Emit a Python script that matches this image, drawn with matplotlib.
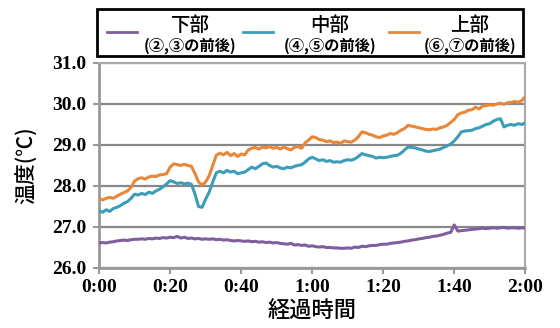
import matplotlib
matplotlib.use("Agg")
import matplotlib.pyplot as plt
from matplotlib.lines import Line2D
from matplotlib.patches import Rectangle
import numpy as np

JP = ['Noto Sans CJK JP', 'DejaVu Sans']
NUM = ['Liberation Serif', 'DejaVu Serif']

# elapsed time in minutes, one reading per minute
minutes = np.arange(0, 121)

# upper part (6, 7)
upper = [27.68, 27.66, 27.70, 27.72, 27.70, 27.75, 27.80, 27.84, 27.88, 27.97, 28.12,
         28.18, 28.20, 28.17, 28.22, 28.24, 28.23, 28.27, 28.28, 28.30, 28.46,
         28.54, 28.52, 28.50, 28.53, 28.50, 28.48, 28.30, 28.10, 28.02, 28.10,
         28.25, 28.50, 28.75, 28.80, 28.76, 28.82, 28.74, 28.79, 28.72, 28.78,
         28.76, 28.88, 28.92, 28.94, 28.90, 28.95, 28.93, 28.96, 28.92, 28.94,
         28.90, 28.95, 28.91, 28.88, 28.94, 28.96, 28.92, 29.05, 29.12, 29.20,
         29.18, 29.13, 29.12, 29.08, 29.10, 29.06, 29.07, 29.04, 29.10, 29.08,
         29.07, 29.12, 29.20, 29.32, 29.30, 29.26, 29.24, 29.20, 29.18, 29.22,
         29.24, 29.28, 29.26, 29.30, 29.36, 29.40, 29.48, 29.46, 29.44, 29.42,
         29.40, 29.38, 29.37, 29.39, 29.38, 29.42, 29.44, 29.48, 29.55, 29.62,
         29.74, 29.78, 29.80, 29.85, 29.86, 29.92, 29.88, 29.95, 29.96, 29.98,
         29.97, 30.00, 30.02, 29.99, 30.03, 30.04, 30.06, 30.04, 30.08, 30.18]

# middle part (4, 5)
middle = [27.39, 27.36, 27.42, 27.38, 27.45, 27.48, 27.52, 27.58, 27.62, 27.70, 27.80,
          27.78, 27.82, 27.79, 27.85, 27.82, 27.88, 27.92, 27.98, 28.05, 28.13,
          28.10, 28.06, 28.08, 28.05, 28.07, 28.04, 27.80, 27.50, 27.48, 27.68,
          27.85, 28.10, 28.32, 28.36, 28.32, 28.38, 28.34, 28.36, 28.30, 28.32,
          28.34, 28.40, 28.46, 28.42, 28.48, 28.54, 28.56, 28.50, 28.46, 28.48,
          28.44, 28.42, 28.46, 28.44, 28.48, 28.50, 28.52, 28.58, 28.66, 28.70,
          28.66, 28.62, 28.64, 28.60, 28.62, 28.58, 28.59, 28.58, 28.62, 28.64,
          28.63, 28.66, 28.72, 28.79, 28.76, 28.74, 28.72, 28.68, 28.70, 28.69,
          28.70, 28.72, 28.74, 28.75, 28.80, 28.88, 28.95, 28.94, 28.93, 28.90,
          28.88, 28.85, 28.84, 28.86, 28.88, 28.90, 28.94, 28.98, 29.02, 29.10,
          29.20, 29.32, 29.34, 29.35, 29.36, 29.40, 29.42, 29.46, 29.50, 29.52,
          29.58, 29.62, 29.64, 29.44, 29.48, 29.50, 29.48, 29.52, 29.50, 29.54]

# lower part (2, 3)
lower = [26.61, 26.62, 26.61, 26.63, 26.64, 26.66, 26.67, 26.68, 26.67, 26.69, 26.70,
         26.70, 26.71, 26.70, 26.72, 26.71, 26.73, 26.72, 26.74, 26.73, 26.75,
         26.74, 26.77, 26.73, 26.75, 26.72, 26.73, 26.71, 26.72, 26.70, 26.71,
         26.70, 26.71, 26.69, 26.70, 26.68, 26.69, 26.67, 26.66, 26.67, 26.66,
         26.65, 26.66, 26.64, 26.65, 26.63, 26.64, 26.62, 26.63, 26.61, 26.62,
         26.60, 26.59, 26.58, 26.60, 26.56, 26.57, 26.55, 26.56, 26.53, 26.54,
         26.52, 26.51, 26.52, 26.50, 26.50, 26.49, 26.49, 26.48, 26.48, 26.49,
         26.48, 26.51, 26.50, 26.53, 26.52, 26.54, 26.55, 26.55, 26.57, 26.58,
         26.58, 26.60, 26.61, 26.62, 26.63, 26.65, 26.66, 26.68, 26.69, 26.71,
         26.72, 26.74, 26.75, 26.77, 26.78, 26.80, 26.82, 26.85, 26.87, 27.05,
         26.90, 26.91, 26.92, 26.93, 26.94, 26.95, 26.96, 26.97, 26.96, 26.97,
         26.98, 26.97, 26.98, 26.99, 26.97, 26.98, 26.98, 26.97, 26.98, 26.97]

names = ['下部', '中部', '上部']
notes = ['(②,③の前後)', '(④,⑤の前後)', '(⑥,⑦の前後)']
colors = ['#7d5fa0', '#3c9db9', '#e8873a']

x_ticks = [0, 20, 40, 60, 80, 100, 120]
x_labels = ['0:00', '0:20', '0:40', '1:00', '1:20', '1:40', '2:00']
y_ticks = [26.0, 27.0, 28.0, 29.0, 30.0, 31.0]

fig = plt.figure(figsize=(5.6, 3.28), dpi=100)
ax = fig.add_axes([0.177, 0.183, 0.761, 0.625])

for series, c in zip([lower, middle, upper], colors):
  ax.plot(minutes, series, color=c, lw=2.2, zorder=3)

ax.set_xlim(0, 120)
ax.set_ylim(26, 31)
ax.set_xticks(x_ticks)
ax.set_xticklabels(x_labels, fontfamily=NUM, fontsize=14, fontweight='bold')
ax.set_yticks(y_ticks)
ax.set_yticklabels(['%.1f' % v for v in y_ticks], fontfamily=NUM, fontsize=14,
                   fontweight='bold')
ax.grid(axis='y', color='#888888', lw=1.6)
ax.set_axisbelow(True)
for side in ['left', 'bottom']:
  ax.spines[side].set_color('#999999')
  ax.spines[side].set_linewidth(2)
for side in ['right', 'top']:
  ax.spines[side].set_color('#aaaaaa')
  ax.spines[side].set_linewidth(1.5)
ax.tick_params(axis='both', colors='#999999', labelcolor='black', length=4, width=1.5)
ax.tick_params(axis='x', pad=4)
ax.tick_params(axis='y', pad=5)

ax.set_xlabel('経過時間', fontfamily=JP, fontsize=16, fontweight='medium', labelpad=3)
ax.set_ylabel('温度(℃)', fontfamily=JP, fontsize=15, fontweight='medium', labelpad=10)

# legend box drawn by hand, two lines of text per entry
fig.add_artist(Rectangle((97/560, 1 - 56/328), 426/560, 47/328, transform=fig.transFigure,
                         fill=False, ec='black', lw=2))
handle_x = [107, 243, 389]
text_x = [190, 330, 470]
for hx, tx, name, note, c in zip(handle_x, text_x, names, notes, colors):
  fig.add_artist(Line2D([hx/560, (hx + 30)/560], [1 - 32/328]*2, transform=fig.transFigure,
                        color=c, lw=2))
  fig.text(tx/560, 1 - 25/328, name, fontfamily=JP, fontsize=14, fontweight='medium',
           ha='center', va='center')
  fig.text(tx/560, 1 - 46/328, note, fontfamily=JP, fontsize=11, fontweight='bold',
           ha='center', va='center')

fig.savefig('out.png', dpi=100)
